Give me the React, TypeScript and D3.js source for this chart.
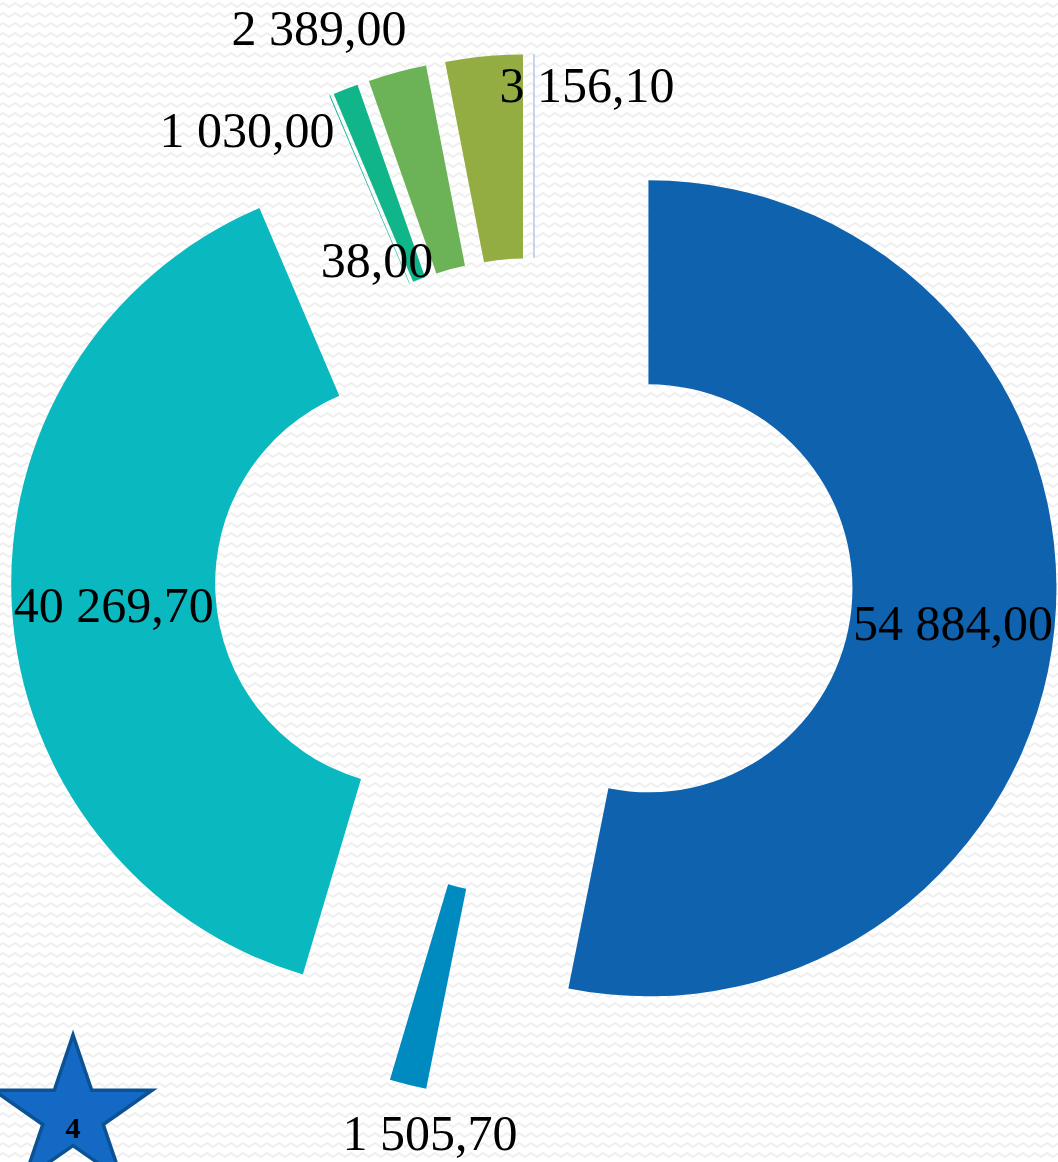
import React from "react";
import * as d3 from "d3";

// ---- data ----
const categories = ["Категория 1", "Категория 2", "Категория 3", "Категория 4", "Категория 5", "Категория 6", "Категория 7", "Категория 8"];
const values = [54884.0, 1505.7, 40269.7, 38.0, 1030.0, 2389.0, 3156.1, 0];
const sliceColors = ["#0E62AE", "#008BC0", "#0AB8C0", "#12B49C", "#10B68A", "#6CB357", "#94AD42", "#B4C7E7"];
const showLabel = [true, true, true, true, true, true, true, false];
const starText = "4";

// ---- layout ----
const W = 1058;
const H = 1162;
const CX = 534;
const CY = 577;
const R_OUT = 408;
const R_IN = 204;
const EXPLODE = 115;
const FONT = 50;
// label anchors for slices too thin for inner labels (offset from chart centre: dx, baseline dy)
const labelOffsets: ([number, number] | null)[] = [null, [-104, 573], null, [-157, -300], [-287, -430], [-215, -532], [53, -475], null];

const locale = d3.formatLocale({ decimal: ",", thousands: " ", grouping: [3], currency: ["", ""] });
const fmt = locale.format(",.2f");

export default function App() {
  const pie = d3.pie<number>().sort(null).value((d) => d).startAngle(0).endAngle(2 * Math.PI);
  const arcs = pie(values);
  const arcGen = d3.arc<d3.PieArcDatum<number>>().innerRadius(R_IN).outerRadius(R_OUT);

  const star: [number, number][] = [];
  const sR = 80, sr = 80 * 0.382, scx = 73, scy = 1115;
  for (let i = 0; i < 10; i++) {
    const a = (i * Math.PI) / 5;
    const rr = i % 2 === 0 ? sR : sr;
    star.push([scx + rr * Math.sin(a) * 1.04, scy - rr * Math.cos(a)]);
  }
  const starPath = d3.line()(star.concat([star[0]])) + "Z";

  return (
    <div style={{ position: "absolute", left: 0, top: 0 }}>
      <svg width={W} height={H} style={{ display: "block" }}>
        <defs>
          <pattern id="zz" width="12" height="10" patternUnits="userSpaceOnUse">
            <path d="M-3 7 L3 3 L9 7 L15 3" fill="none" stroke="#efefef" strokeWidth={2} />
          </pattern>
        </defs>
        <rect x={0} y={0} width={W} height={H} fill="#ffffff" />
        <rect x={0} y={0} width={W} height={H} fill="url(#zz)" />
        {arcs.map((a, i) => {
          const mid = (a.startAngle + a.endAngle) / 2;
          const ox = CX + EXPLODE * Math.sin(mid);
          const oy = CY - EXPLODE * Math.cos(mid);
          if (a.endAngle - a.startAngle < 1e-6) {
            const ang = a.startAngle;
            return (
              <line
                key={i}
                x1={ox + R_IN * Math.sin(ang)}
                y1={oy - R_IN * Math.cos(ang)}
                x2={ox + R_OUT * Math.sin(ang)}
                y2={oy - R_OUT * Math.cos(ang)}
                stroke={sliceColors[i]}
                strokeWidth={1.5}
              />
            );
          }
          return <path key={i} d={arcGen(a) || ""} transform={`translate(${ox},${oy})`} fill={sliceColors[i]} />;
        })}
        {arcs.map((a, i) => {
          if (!showLabel[i]) return null;
          const mid = (a.startAngle + a.endAngle) / 2;
          let x: number, y: number;
          const off = labelOffsets[i];
          if (off) {
            x = CX + off[0];
            y = CY + off[1];
          } else {
            const ox = CX + EXPLODE * Math.sin(mid);
            const oy = CY - EXPLODE * Math.cos(mid);
            const rm = (R_IN + R_OUT) / 2;
            x = ox + rm * Math.sin(mid);
            y = oy - rm * Math.cos(mid) + FONT * 0.42;
          }
          return (
            <text key={"l" + i} x={x} y={y} textAnchor="middle" fontFamily="'Liberation Serif', serif" fontSize={FONT} fill="#000">
              {fmt(values[i])}
            </text>
          );
        })}
        <path d={starPath} fill="#1469C4" stroke="#0B5294" strokeWidth={3.5} strokeLinejoin="miter" />
        <text x={73} y={1138} textAnchor="middle" fontFamily="'Liberation Serif', serif" fontSize={30} fontWeight="bold" fill="#000">
          {starText}
        </text>
      </svg>
    </div>
  );
}
